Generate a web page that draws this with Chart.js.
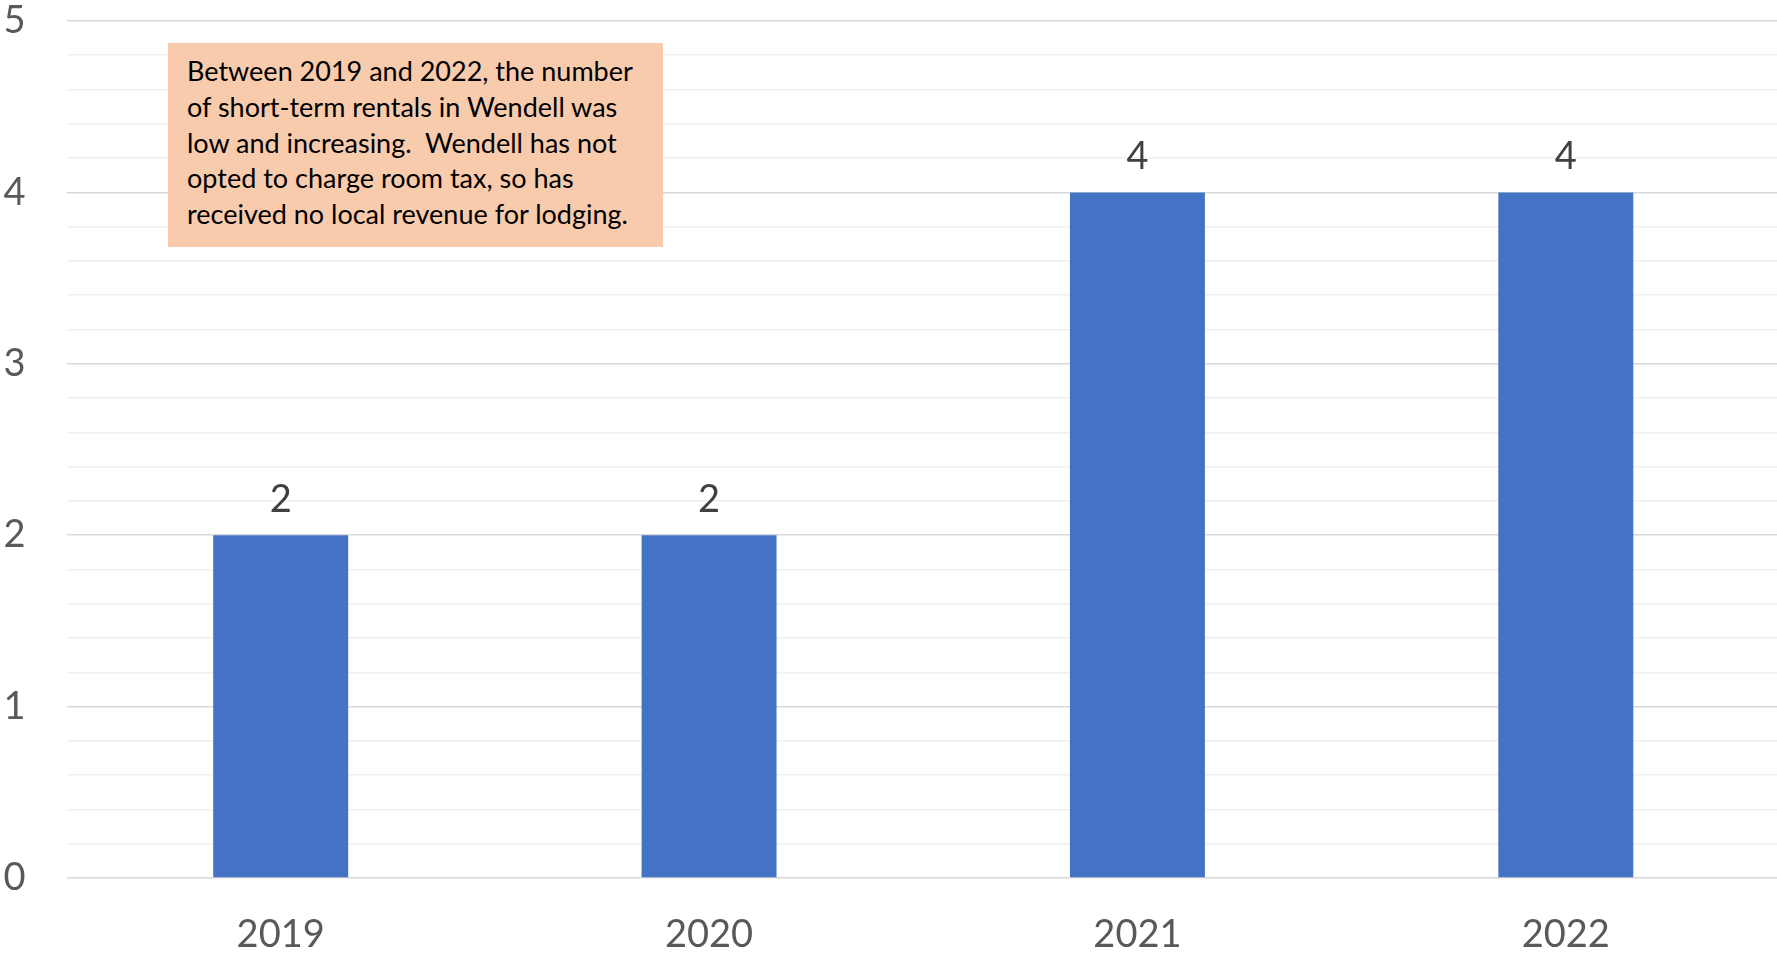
<!DOCTYPE html>
<html>
<head>
<meta charset="utf-8">
<script src="https://cdn.jsdelivr.net/npm/chart.js@4/dist/chart.umd.min.js"></script>
<style>
  html, body { margin: 0; padding: 0; background: #fff; overflow: hidden; }
  #wrap { position: relative; width: 1780px; height: 953px; }
  #note {
    position: absolute; left: 168px; top: 43px; width: 495px; height: 204px;
    box-sizing: border-box; padding: 10px 0 0 19px;
    background: #F8CBAD; color: #000;
    font-family: Lato, sans-serif; font-size: 27px; line-height: 35.8px;
    white-space: pre;
  }
</style>
</head>
<body>
<div id="wrap">
  <canvas id="c"></canvas>
  <div id="note"></div>
</div>
<script>
// Short-term rentals in Wendell, by year
const years = ['2019', '2020', '2021', '2022'];
const rentals = [2, 2, 4, 4];
const yTicks = [0, 1, 2, 3, 4, 5];
const noteLines = [
  'Between 2019 and 2022, the number',
  'of short-term rentals in Wendell was',
  'low and increasing.  Wendell has not',
  'opted to charge room tax, so has',
  'received no local revenue for lodging.'
];

document.getElementById('note').textContent = noteLines.join('\n');

const isMajor = v => yTicks.some(t => Math.abs(t - v) < 1e-6);

// value labels above each bar
const valueLabels = {
  id: 'valueLabels',
  afterDatasetsDraw(chart) {
    const ctx = chart.ctx;
    const meta = chart.getDatasetMeta(0);
    ctx.save();
    ctx.font = '38px Lato, sans-serif';
    ctx.fillStyle = '#404040';
    ctx.textAlign = 'center';
    ctx.textBaseline = 'alphabetic';
    meta.data.forEach((bar, i) => {
      ctx.fillText(String(rentals[i]), bar.x, bar.y - 23);
    });
    ctx.restore();
  }
};

new Chart(document.getElementById('c'), {
  type: 'bar',
  data: {
    labels: years,
    datasets: [{
      data: rentals,
      backgroundColor: '#4472C4',
      borderWidth: 0,
      barPercentage: 0.315,
      categoryPercentage: 1
    }]
  },
  options: {
    responsive: true,
    maintainAspectRatio: false,
    animation: false,
    events: [],
    layout: { padding: { top: 21, right: 0, bottom: 0, left: 0 } },
    plugins: { legend: { display: false }, tooltip: { enabled: false } },
    scales: {
      x: {
        offset: true,
        grid: { display: false, drawTicks: false },
        border: { display: false },
        ticks: {
          color: '#595959',
          font: { family: 'Lato, sans-serif', size: 38 },
          padding: 34
        },
        afterFit(scale) {
          scale.height = 75;
          scale.paddingLeft = 0;
          scale.paddingRight = 0;
        }
      },
      y: {
        min: 0,
        max: 5,
        grid: {
          drawTicks: false,
          color: ctx => isMajor(ctx.tick.value) ? '#d9d9d9' : '#f0f0f0',
          lineWidth: 1.6
        },
        border: { display: false },
        ticks: {
          stepSize: 0.2,
          autoSkip: false,
          color: '#595959',
          font: { family: 'Lato, sans-serif', size: 38 },
          padding: 41,
          callback: v => isMajor(v) ? String(Math.round(v)) : ''
        },
        afterFit(scale) {
          scale.width = 66.5;
          scale.paddingTop = 0;
          scale.paddingBottom = 0;
        }
      }
    }
  },
  plugins: [valueLabels]
});
</script>
</body>
</html>
